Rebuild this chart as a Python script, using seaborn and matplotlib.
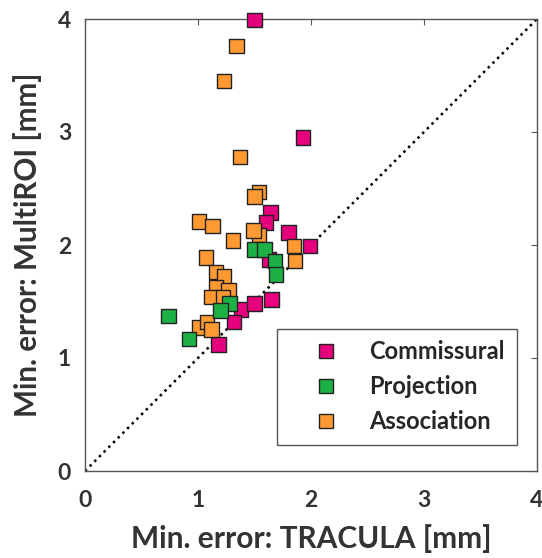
import matplotlib
matplotlib.use("Agg")
import matplotlib.pyplot as plt
import seaborn as sns
import pandas as pd

# Minimum tract error per bundle: TRACULA (x) vs MultiROI (y), in mm
commissural_x = [1.50, 1.93, 1.64, 1.60, 1.80, 1.99, 1.63, 1.38, 1.50, 1.65, 1.32, 1.18]
commissural_y = [3.99, 2.95, 2.29, 2.20, 2.11, 1.99, 1.87, 1.43, 1.48, 1.52, 1.32, 1.12]

association_x = [1.34, 1.23, 1.37, 1.54, 1.50, 1.01, 1.13, 1.54, 1.49, 1.31, 1.85, 1.86,
                 1.07, 1.16, 1.23, 1.16, 1.27, 1.12, 1.22, 1.01, 1.08, 1.12]
association_y = [3.76, 3.45, 2.78, 2.47, 2.43, 2.21, 2.17, 2.09, 2.13, 2.04, 1.99, 1.86,
                 1.89, 1.76, 1.72, 1.63, 1.60, 1.54, 1.54, 1.27, 1.32, 1.25]

projection_x = [1.50, 1.59, 1.68, 1.69, 1.28, 1.20, 0.74, 0.92]
projection_y = [1.96, 1.96, 1.86, 1.74, 1.48, 1.42, 1.37, 1.17]

groups = ["Commissural", "Projection", "Association"]
colors = {"Commissural": "#E6007E", "Projection": "#1DB044", "Association": "#FF9A33"}
axis_ticks = [0, 1, 2, 3, 4]

df = pd.concat([
    pd.DataFrame({"tracula": commissural_x, "multiroi": commissural_y, "group": "Commissural"}),
    pd.DataFrame({"tracula": association_x, "multiroi": association_y, "group": "Association"}),
    pd.DataFrame({"tracula": projection_x, "multiroi": projection_y, "group": "Projection"}),
], ignore_index=True)

sns.set_style("white")
plt.rcParams["font.family"] = ["Lato", "DejaVu Sans"]

fig = plt.figure(figsize=(5.42, 5.58), dpi=100)
ax = fig.add_axes([85 / 542, 87 / 558, 452 / 542, 452 / 558])

# identity line
ax.plot([0, 4], [0, 4], linestyle=":", color="black", linewidth=1.8, zorder=1)

sns.scatterplot(data=df, x="tracula", y="multiroi", hue="group", hue_order=groups,
                palette=colors, marker="s", s=110, edgecolor="#222222", linewidth=1.0,
                ax=ax, zorder=3, legend=True)
ax.collections[-1].set_clip_on(False)

ax.set_xlim(0, 4)
ax.set_ylim(0, 4)
ax.set_xticks(axis_ticks)
ax.set_yticks(axis_ticks)
ax.tick_params(direction="in", length=4, width=0.8, color="#555555",
               top=True, right=True, labelsize=16.5, labelcolor="#333333")
ax.tick_params(axis="x", pad=14)
ax.tick_params(axis="y", pad=10)
for lbl in ax.get_xticklabels() + ax.get_yticklabels():
    lbl.set_fontweight("bold")
for sp in ax.spines.values():
    sp.set_color("#555555")
    sp.set_linewidth(1.0)

ax.set_xlabel("Min. error: TRACULA [mm]", fontsize=21.5, fontweight="bold", color="#333333", labelpad=9)
ax.set_ylabel("Min. error: MultiROI [mm]", fontsize=21.3, fontweight="bold", color="#333333", labelpad=11)

leg = ax.legend(loc="lower right", bbox_to_anchor=(0.955, 0.058), frameon=True, fancybox=False,
                edgecolor="#555555", framealpha=1, prop={"weight": "bold", "size": 17},
                handlelength=3.1, handletextpad=0.3, borderpad=0.5, labelspacing=0.5,
                markerscale=0.9, borderaxespad=0)
leg.get_frame().set_linewidth(1.0)

fig.savefig("out.png", dpi=100)
